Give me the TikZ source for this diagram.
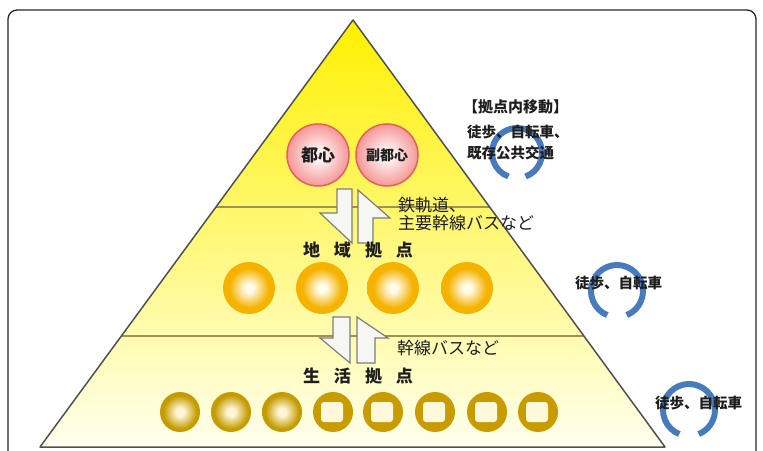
\documentclass[tikz,border=0pt]{standalone}
\usepackage{fontspec}
\newfontfamily\jp{Noto Sans CJK JP}
\usetikzlibrary{calc}
\definecolor{tyA}{RGB}{255,240,0}
\definecolor{tyB}{RGB}{255,255,140}
\definecolor{tyC}{RGB}{255,255,238}
\definecolor{pinkA}{RGB}{255,240,240}
\definecolor{pinkB}{RGB}{242,128,128}
\definecolor{pinkE}{RGB}{228,95,95}
\definecolor{orA}{RGB}{255,252,235}
\definecolor{orB}{RGB}{245,178,0}
\definecolor{orC}{RGB}{250,205,70}
\definecolor{gA}{RGB}{255,246,215}
\definecolor{gB}{RGB}{196,156,0}
\definecolor{gC}{RGB}{210,180,60}
\definecolor{goldsolid}{RGB}{200,156,0}
\definecolor{goldin}{RGB}{255,248,218}
\definecolor{ringblue}{RGB}{72,122,190}
\definecolor{hline}{RGB}{160,145,80}
\definecolor{triedge}{RGB}{80,80,80}
\definecolor{arrowedge}{RGB}{125,125,125}
\definecolor{arrowfill}{RGB}{246,246,242}
\definecolor{txt}{RGB}{30,30,30}
\pgfdeclareradialshading{pinkball}{\pgfpoint{0bp}{0bp}}{color(0bp)=(pinkA); color(5bp)=(pinkA); color(30bp)=(pinkB); color(36bp)=(pinkB); color(50bp)=(pinkB)}
\pgfdeclareradialshading{orball}{\pgfpoint{0bp}{0bp}}{color(0bp)=(orA); color(4bp)=(orA); color(19bp)=(orB); color(31bp)=(orB); color(35bp)=(orC); color(50bp)=(orC)}
\pgfdeclareradialshading{gball}{\pgfpoint{0bp}{0bp}}{color(0bp)=(gA); color(5bp)=(gA); color(21bp)=(gB); color(31bp)=(gB); color(35bp)=(gC); color(50bp)=(gC)}
\begin{document}
\begin{tikzpicture}[x=1pt,y=1pt,
  pinkstyle/.style={circle,minimum size=62pt,inner sep=0pt,shading=pinkball,draw=pinkE,line width=1.5pt,text=txt},
  orstyle/.style={circle,minimum size=52pt,inner sep=0pt,shading=orball},
  gstyle/.style={circle,minimum size=40pt,inner sep=0pt,shading=gball},
  gsolid/.style={circle,minimum size=40pt,inner sep=0pt,fill=goldsolid},
  ginner/.style={rectangle,rounded corners=3pt,minimum width=22pt,minimum height=20pt,inner sep=0pt,fill=goldin},
  halfarrow/.style={fill=arrowfill,draw=arrowedge,line width=1.2pt,line join=miter},
  ringstyle/.style={draw=ringblue,line width=6pt},
  lbl/.style={font={\jp\fontsize{17pt}{20pt}\selectfont},anchor=west,inner sep=0pt,text=txt},
  sidelbl/.style={font={\jp\bfseries\fontsize{14.5pt}{17pt}\selectfont},anchor=west,inner sep=0pt,text=txt},
  tierlbl/.style={font={\jp\bfseries\fontsize{17pt}{20pt}\selectfont},inner sep=0pt,text=txt}
]
\useasboundingbox (0,0) rectangle (763,450);
\clip (0,0) rectangle (763,450);
% frame
\draw[line width=1.3pt,rounded corners=9pt,draw=black!85] (8,-20) rectangle (756,440);
% triangle
\coordinate (apex) at (353,430);
\coordinate (bl) at (40,3);
\coordinate (br) at (665,3);
\shade[top color=tyA,middle color=tyB,bottom color=tyC] (apex) -- (bl) -- (br) -- cycle;
\coordinate (l1a) at ($(apex)!0.4379!(bl)$);
\coordinate (l1b) at ($(apex)!0.4379!(br)$);
\coordinate (l2a) at ($(apex)!0.7400!(bl)$);
\coordinate (l2b) at ($(apex)!0.7400!(br)$);
\draw[hline,line width=1.1pt] (l1a) -- (l1b);
\draw[hline,line width=1.1pt] (l2a) -- (l2b);
\draw[triedge,line width=1.5pt,line join=round] (apex) -- (bl) -- (br) -- cycle;
% top tier
\node[pinkstyle,font={\jp\bfseries\fontsize{17pt}{20pt}\selectfont}] (toshin) at (318,295) {都心};
\node[pinkstyle,font={\jp\bfseries\fontsize{14pt}{16pt}\selectfont}] (fuku) at (387,295) {副都心};
% arrows pair 1
\draw[halfarrow] (337,261) -- (352,261) -- (352,207) -- (320,237) -- (337,237) -- cycle;
\draw[halfarrow] (358,207) -- (373,207) -- (373,232) -- (390,232) -- (358,260) -- cycle;
\node[lbl] (rail1) at (398,245) {鉄軌道、};
\node[lbl] (rail2) at (398,227) {主要幹線バスなど};
% middle tier
\node[tierlbl] (chiiki) at (358,200) {地\hspace{14pt}域\hspace{14pt}拠\hspace{14pt}点};
\node[orstyle] (o1) at (249,162) {};
\node[orstyle] (o2) at (322,162) {};
\node[orstyle] (o3) at (393,162) {};
\node[orstyle] (o4) at (467,162) {};
% arrows pair 2
\draw[halfarrow] (333,133) -- (350,133) -- (350,87) -- (320,112) -- (333,112) -- cycle;
\draw[halfarrow] (357,87) -- (375,87) -- (375,112) -- (388,112) -- (357,133) -- cycle;
\node[lbl] (bus) at (397,102) {幹線バスなど};
% bottom tier
\node[tierlbl] (seikatsu) at (358,74) {生\hspace{14pt}活\hspace{14pt}拠\hspace{14pt}点};
\node[gstyle] (g1) at (180,38) {};
\node[gstyle] (g2) at (231,38) {};
\node[gstyle] (g3) at (282,38) {};
\foreach \i/\x in {4/333,5/383,6/435,7/487,8/538}{
  \node[gsolid] (g\i) at (\x,38) {};
  \node[ginner] (gi\i) at (\x-1,38) {};
}
% rings
\draw[ringstyle] ($(517,297)+(-70:25)$) arc[start angle=-70,end angle=250,radius=25];
\draw[ringstyle] ($(617,159)+(-68:26)$) arc[start angle=-68,end angle=248,radius=26];
\draw[ringstyle] ($(689,40)+(-68:26)$) arc[start angle=-68,end angle=248,radius=26];
% side labels
\node[sidelbl,font={\jp\bfseries\fontsize{15pt}{17pt}\selectfont}] (kyoten) at (463,343) {【拠点内移動】};
\node[sidelbl] (m1) at (467,318) {徒歩、自転車、};
\node[sidelbl] (m2) at (467,297) {既存公共交通};
\node[sidelbl] (m3) at (575,167) {徒歩、自転車};
\node[sidelbl] (m4) at (655,47) {徒歩、自転車};
\end{tikzpicture}
\end{document}
